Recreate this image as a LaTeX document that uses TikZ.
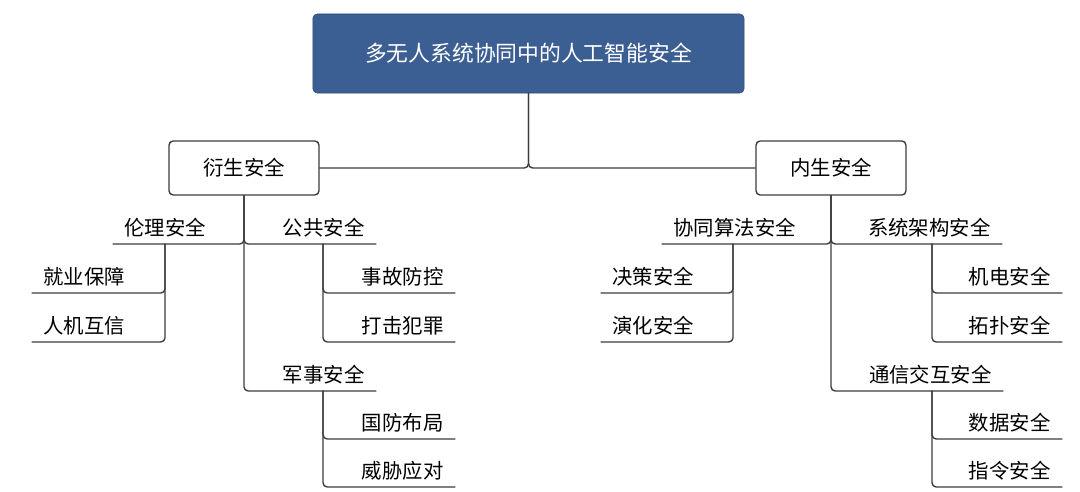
\documentclass[tikz,border=0pt]{standalone}
\usepackage{fontspec}
\setmainfont{Noto Sans CJK SC}
\usepackage{tikz}
\usetikzlibrary{positioning}

\definecolor{titleblue}{RGB}{59,94,147}
\definecolor{linegray}{RGB}{60,60,60}

\tikzset{
  titlebox/.style={draw=titleblue!80!black, fill=titleblue, rounded corners=3pt, text=white,
    minimum width=10.775cm, minimum height=1.975cm, font=\fontsize{15.5}{18}\selectfont},
  catbox/.style={draw=linegray, fill=white, rounded corners=3pt, line width=1pt,
    minimum width=3.75cm, minimum height=1.35cm, font=\fontsize{14.5}{16}\selectfont},
  lbl/.style={inner xsep=8pt, inner ysep=4.6pt, font=\fontsize{14.5}{16}\selectfont},
  conn/.style={draw=linegray, line width=1pt, rounded corners=3pt}
}

\begin{document}
\begin{tikzpicture}[x=0.025cm, y=-0.025cm, line cap=round, line join=round]
\useasboundingbox (0,0) rectangle (1080,492);

% boxes
\node[titlebox] (title) at (528.5,53.5) {多无人系统协同中的人工智能安全};
\node[catbox] (yansheng) at (244,168) {衍生安全};
\node[catbox] (neisheng) at (831,168) {内生安全};

\draw[conn] (title.south) |- (yansheng.east);
\draw[conn] (title.south) |- (neisheng.west);

% left tree
\node[lbl, anchor=south west] (lunli) at (113,244) {伦理安全};
\node[lbl, anchor=south east] (gonggong) at (376,244) {公共安全};
\node[lbl, anchor=south east] (junshi) at (376,391) {军事安全};

\node[lbl, anchor=south west] (jiuye) at (32,293) {就业保障};
\node[lbl, anchor=south west] (renji) at (32,342) {人机互信};
\node[lbl, anchor=south east] (shigu) at (455,293) {事故防控};
\node[lbl, anchor=south east] (daji) at (455,342) {打击犯罪};
\node[lbl, anchor=south east] (guofang) at (455,439) {国防布局};
\node[lbl, anchor=south east] (weixie) at (455,487) {威胁应对};

\coordinate (lunli-b) at (165,244);
\coordinate (gonggong-b) at (323,244);
\coordinate (junshi-b) at (323,391);

\draw[conn] (yansheng.south) |- (lunli.south west);
\draw[conn] (yansheng.south) |- (gonggong.south east);
\draw[conn] (yansheng.south) |- (junshi.south east);

\draw[conn] (lunli-b) |- (jiuye.south west);
\draw[conn] (lunli-b) |- (renji.south west);
\draw[conn] (gonggong-b) |- (shigu.south east);
\draw[conn] (gonggong-b) |- (daji.south east);
\draw[conn] (junshi-b) |- (guofang.south east);
\draw[conn] (junshi-b) |- (weixie.south east);

% right tree
\node[lbl, anchor=south west] (xietong) at (662,244) {协同算法安全};
\node[lbl, anchor=south east] (jiagou) at (1002,244) {系统架构安全};
\node[lbl, anchor=south east] (tongxin) at (1003,391) {通信交互安全};

\node[lbl, anchor=south west] (juece) at (601,293) {决策安全};
\node[lbl, anchor=south west] (yanhua) at (601,342) {演化安全};
\node[lbl, anchor=south east] (jidian) at (1062,293) {机电安全};
\node[lbl, anchor=south east] (tuopu) at (1062,342) {拓扑安全};
\node[lbl, anchor=south east] (shuju) at (1062,439) {数据安全};
\node[lbl, anchor=south east] (zhiling) at (1062,487) {指令安全};

\coordinate (xietong-b) at (733,244);
\coordinate (jiagou-b) at (932,244);
\coordinate (tongxin-b) at (932,391);

\draw[conn] (neisheng.south) |- (xietong.south west);
\draw[conn] (neisheng.south) |- (jiagou.south east);
\draw[conn] (neisheng.south) |- (tongxin.south east);

\draw[conn] (xietong-b) |- (juece.south west);
\draw[conn] (xietong-b) |- (yanhua.south west);
\draw[conn] (jiagou-b) |- (jidian.south east);
\draw[conn] (jiagou-b) |- (tuopu.south east);
\draw[conn] (tongxin-b) |- (shuju.south east);
\draw[conn] (tongxin-b) |- (zhiling.south east);

\end{tikzpicture}
\end{document}
